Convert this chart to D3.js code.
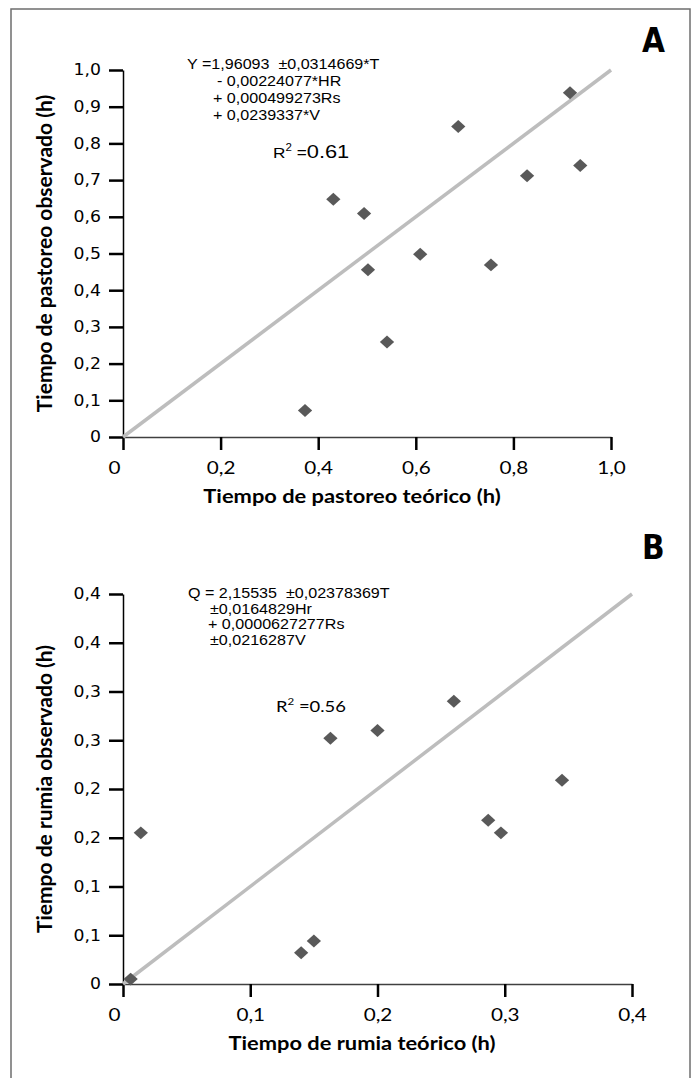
<!DOCTYPE html>
<html>
<head>
<meta charset="utf-8">
<script src="https://cdn.jsdelivr.net/npm/d3@7"></script>
<style>
  body { margin: 0; background: #fff; }
</style>
</head>
<body>
<div id="container"></div>
<script>
// Panel A: pastoreo
const xA = [0.373, 0.431, 0.494, 0.502, 0.541, 0.609, 0.687, 0.754, 0.828, 0.916, 0.937];
const yA = [0.072, 0.648, 0.609, 0.456, 0.259, 0.498, 0.846, 0.469, 0.712, 0.938, 0.740];
const xTicksA = [0, 0.2, 0.4, 0.6, 0.8, 1.0];
const xLabelsA = ["0", "0,2", "0,4", "0,6", "0,8", "1,0"];
const yTicksA = [0, 0.1, 0.2, 0.3, 0.4, 0.5, 0.6, 0.7, 0.8, 0.9, 1.0];
const yLabelsA = ["0", "0,1", "0,2", "0,3", "0,4", "0,5", "0,6", "0,7", "0,8", "0,9", "1,0"];
const eqA = ["Y =1,96093  \u00b10,0314669*T", "- 0,00224077*HR", "+ 0,000499273Rs", "+ 0,0239337*V"];

// Panel B: rumia
const xB = [0.006, 0.014, 0.140, 0.150, 0.163, 0.200, 0.260, 0.287, 0.297, 0.345];
const yB = [0.005, 0.155, 0.032, 0.044, 0.252, 0.260, 0.290, 0.168, 0.155, 0.209];
const xTicksB = [0, 0.1, 0.2, 0.3, 0.4];
const xLabelsB = ["0", "0,1", "0,2", "0,3", "0,4"];
const yTicksB = [0, 0.05, 0.1, 0.15, 0.2, 0.25, 0.3, 0.35, 0.4];
const yLabelsB = ["0", "0,1", "0,1", "0,2", "0,2", "0,3", "0,3", "0,4", "0,4"];
const eqB = ["Q = 2,15535  \u00b10,02378369T", "\u00b10,0164829Hr", "+ 0,0000627277Rs", "\u00b10,0216287V"];

const w = 695;
const h = 1078;
const sx = 1.15; // la figura original está algo estirada a lo ancho

const svg = d3.select('#container')
    .append('svg')
    .attr('width', w)
    .attr('height', h);

// marco
svg.append('rect')
    .attr('x', 11).attr('y', 9)
    .attr('width', 679).attr('height', 1080)
    .attr('fill', 'none')
    .attr('stroke', '#6e6e6e')
    .attr('stroke-width', 1.5);

const diamond = d3.symbol(d3.symbolSquare, 84);

function drawPanel(p) {
    const x = d3.scaleLinear().domain(p.xDomain).range(p.xRange);
    const y = d3.scaleLinear().domain(p.yDomain).range(p.yRange);
    const g = svg.append('g');

    // eje X
    const axX = g.append('g')
        .attr('transform', `translate(0,${p.yRange[0]})`)
        .call(d3.axisBottom(x).tickValues(p.xTicks).tickSize(13).tickSizeOuter(0)
            .tickFormat((d, i) => p.xLabels[i]));
    axX.select('.domain').attr('stroke', '#404040').attr('stroke-width', 1.5);
    axX.selectAll('.tick line').attr('stroke', '#000').attr('stroke-width', 2.5);
    axX.selectAll('.tick text')
        .attr('font-family', 'Lato, "Open Sans", sans-serif')
        .attr('font-size', 18).attr('fill', '#000').attr('dy', '1.15em')
        .attr('x', (d, i) => i === 0 ? -9 / sx : 0)
        .attr('transform', `scale(${sx},1)`);

    // eje Y
    const axY = g.append('g')
        .attr('transform', `translate(${p.xRange[0]},0)`)
        .call(d3.axisLeft(y).tickValues(p.yTicks).tickSize(14).tickSizeOuter(0)
            .tickFormat((d, i) => p.yLabels[i]));
    axY.select('.domain').attr('stroke', '#000').attr('stroke-width', 1.5);
    axY.selectAll('.tick line').attr('stroke', '#000').attr('stroke-width', 2.5);
    axY.selectAll('.tick text')
        .attr('font-family', '"DejaVu Sans", Verdana, sans-serif')
        .attr('font-size', 15).attr('fill', '#000').attr('x', -22 / sx)
        .attr('transform', `scale(${sx},1)`);

    // línea 1:1
    g.append('line')
        .attr('x1', x(p.xDomain[0])).attr('y1', y(p.yDomain[0]))
        .attr('x2', x(p.xDomain[1])).attr('y2', y(p.yDomain[1]))
        .attr('stroke', '#bdbdbd').attr('stroke-width', 3.5);

    // puntos
    g.selectAll('path.pt')
        .data(p.xs.map((v, i) => [v, p.ys[i]]))
        .enter()
        .append('path')
        .attr('class', 'pt')
        .attr('d', diamond)
        .attr('transform', d => `translate(${x(d[0])},${y(d[1])}) scale(1.1,1) rotate(45)`)
        .attr('fill', '#595959');

    // ecuación
    const eq = g.append('text')
        .attr('transform', `translate(${p.eqX},0) scale(${sx},1)`)
        .attr('font-family', '"Liberation Sans", Arial, sans-serif')
        .attr('font-size', 14).attr('fill', '#000')
        .style('white-space', 'pre');
    p.eq.forEach((t, i) => {
        eq.append('tspan').attr('x', p.eqDx[i] / sx).attr('y', p.eqY + i * p.eqStep).text(t);
    });

    // R2
    const r2 = g.append('text')
        .attr('transform', `translate(${p.r2X},${p.r2Y}) scale(${sx},1)`)
        .attr('font-family', p.r2Font)
        .attr('font-size', p.r2Size).attr('fill', '#000');
    r2.append('tspan').text('R');
    r2.append('tspan').attr('font-size', 10).attr('dy', -7).text('2');
    r2.append('tspan').attr('dy', 7).text(' =');
    r2.append('tspan').attr('font-size', p.r2ValSize).text(p.r2Val);

    // títulos de ejes
    g.append('text')
        .attr('transform', `translate(${p.xTitleX},${p.yRange[0] + 66}) scale(${sx},1)`)
        .attr('text-anchor', 'middle')
        .attr('font-family', 'Lato, "Open Sans", sans-serif')
        .attr('font-weight', 'bold').attr('font-size', 19)
        .text(p.xTitle);

    g.append('text')
        .attr('transform', `translate(52,${(p.yRange[0] + p.yRange[1]) / 2}) rotate(-90)`)
        .attr('text-anchor', 'middle')
        .attr('font-family', 'Lato, "Open Sans", sans-serif')
        .attr('font-weight', 'bold').attr('font-size', 21)
        .text(p.yTitle);

    // letra del panel
    g.append('text')
        .attr('x', 642).attr('y', p.letterY)
        .attr('font-family', '"Liberation Sans Narrow", "DejaVu Sans Condensed", sans-serif')
        .attr('font-weight', 'bold').attr('font-size', 33)
        .text(p.letter);
}

drawPanel({
    xs: xA, ys: yA,
    xDomain: [0, 1], yDomain: [0, 1],
    xRange: [123, 611], yRange: [437, 70],
    xTicks: xTicksA, xLabels: xLabelsA, yTicks: yTicksA, yLabels: yLabelsA,
    eq: eqA, eqX: 187, eqDx: [0, 30, 26, 26], eqY: 69, eqStep: 17,
    r2X: 273, r2Y: 158, r2Font: '"Liberation Sans", Arial, sans-serif', r2Size: 15, r2ValSize: 19, r2Val: '0.61',
    xTitle: 'Tiempo de pastoreo teórico (h)', xTitleX: 352,
    yTitle: 'Tiempo de pastoreo observado (h)',
    letter: 'A', letterY: 52
});

drawPanel({
    xs: xB, ys: yB,
    xDomain: [0, 0.4], yDomain: [0, 0.4],
    xRange: [123, 632], yRange: [984, 594],
    xTicks: xTicksB, xLabels: xLabelsB, yTicks: yTicksB, yLabels: yLabelsB,
    eq: eqB, eqX: 188, eqDx: [0, 22, 20, 22], eqY: 598, eqStep: 15.6,
    r2X: 276, r2Y: 712, r2Font: 'Lato, "Open Sans", sans-serif', r2Size: 16, r2ValSize: 16, r2Val: '0.56',
    xTitle: 'Tiempo de rumia teórico (h)', xTitleX: 362,
    yTitle: 'Tiempo de rumia observado (h)',
    letter: 'B', letterY: 559
});
</script>
</body>
</html>
